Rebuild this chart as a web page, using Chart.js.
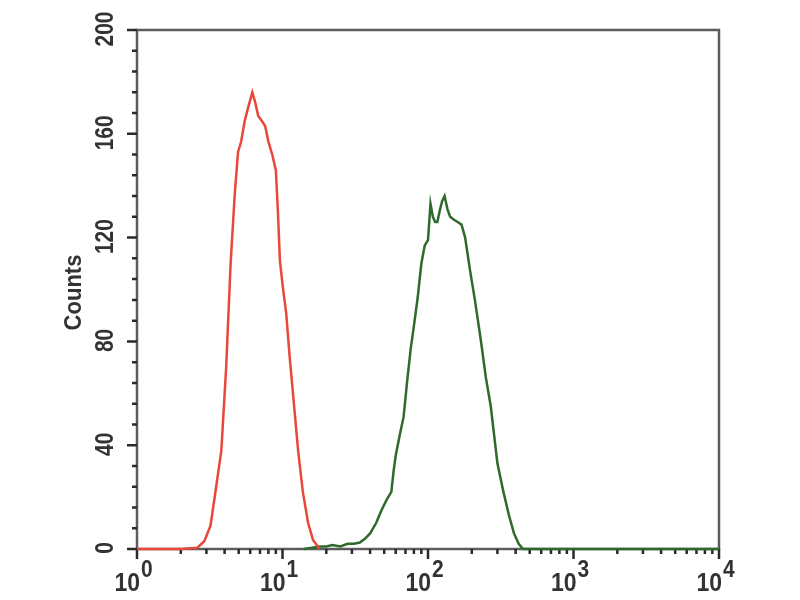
<!DOCTYPE html>
<html>
<head>
<meta charset="utf-8">
<script src="https://cdn.jsdelivr.net/npm/chart.js@4"></script>
<style>
  html, body { margin: 0; padding: 0; background: #fff; }
  #wrap { width: 800px; height: 600px; }
</style>
</head>
<body>
<div id="wrap"><canvas id="flow"></canvas></div>
<script>
// fluorescence channel (log) and counts
const redX = [1, 2.0, 2.6, 2.9, 3.2, 3.5, 3.8, 4.1, 4.4, 4.7, 4.95, 5.2, 5.5, 5.8, 6.2, 6.5, 6.8, 7.2, 7.6, 8.0,
  8.5, 9.0, 9.3, 9.6, 10.1, 10.6, 11.2, 11.8, 12.8, 13.8, 15.0, 16.2, 18.0];
const redY = [0, 0, 0.5, 3, 9, 24, 38, 70, 110, 137, 153, 157, 165, 170, 176, 172, 167, 165, 163, 157,
  152, 146, 130, 111, 100, 91, 74, 60, 38, 22, 10, 3.5, 0];

const greenX = [14, 16, 18, 20, 22, 25, 28, 31, 34, 37, 40, 44, 48, 52, 56, 58, 60, 64, 68, 72, 76, 80, 85, 90, 95,
  100, 104, 108, 112, 116, 120, 125, 130, 136, 142, 150, 160, 170, 180, 195, 210, 230, 250, 270, 300,
  330, 360, 390, 420, 450, 10000];
const greenY = [0, 0.5, 1, 1, 1.5, 1, 2, 2, 2.5, 4, 6, 10, 15, 19, 22, 30, 36, 44, 51, 65, 77, 86, 97, 110, 117,
  119, 133, 128, 126, 126, 130, 134, 136, 131, 128, 127, 126, 125, 120, 107, 96, 81, 66, 55, 33,
  22, 13, 6, 2, 0, 0];

const yTicks = [0, 40, 80, 120, 160, 200];
const yMinorStep = 8;
const xDecades = [1, 10, 100, 1000, 10000];
const xExponents = ['0', '1', '2', '3', '4'];
const yTitle = 'Counts';

const toPoints = (xs, ys) => xs.map((v, i) => ({ x: v, y: ys[i] }));

function drawText(ctx, text, x, y, size, opts) {
  const o = Object.assign({ rot: 0, sx: 1, sy: 1, align: 'center', base: 'middle' }, opts || {});
  ctx.save();
  ctx.translate(x, y);
  ctx.rotate(o.rot);
  ctx.scale(o.sx, o.sy);
  ctx.font = 'bold ' + size + 'px "Liberation Sans", Arial, sans-serif';
  ctx.textAlign = o.align;
  ctx.textBaseline = o.base;
  ctx.fillText(text, 0, 0);
  ctx.restore();
}

const axisPainter = {
  id: 'axisPainter',
  beforeDatasetsDraw(chart) {
    const { ctx, chartArea: a, scales: { x, y } } = chart;
    ctx.save();
    ctx.strokeStyle = '#5c5c5c';
    ctx.lineWidth = 2.5;
    ctx.strokeRect(a.left, a.top, a.right - a.left, a.bottom - a.top);

    ctx.strokeStyle = '#2a2a2a';
    ctx.lineWidth = 2.5;
    ctx.beginPath();
    for (let v = yTicks[0]; v <= yTicks[yTicks.length - 1]; v += yMinorStep) {
      const py = y.getPixelForValue(v);
      const len = yTicks.includes(v) ? 10 : 5;
      ctx.moveTo(a.left - len, py);
      ctx.lineTo(a.left, py);
    }
    xDecades.forEach((d, i) => {
      const px = x.getPixelForValue(d);
      ctx.moveTo(px, a.bottom);
      ctx.lineTo(px, a.bottom + 10);
      if (i < xDecades.length - 1) {
        for (let k = 2; k <= 9; k++) {
          const mx = x.getPixelForValue(d * k);
          ctx.moveTo(mx, a.bottom);
          ctx.lineTo(mx, a.bottom + 5);
        }
      }
    });
    ctx.stroke();

    ctx.fillStyle = '#333';
    yTicks.forEach(v => {
      drawText(ctx, String(v), 106, y.getPixelForValue(v) - 1, 21, { rot: -Math.PI / 2, sy: 1.2 });
    });
    xDecades.forEach((d, i) => {
      const px = x.getPixelForValue(d);
      drawText(ctx, '10', px + 3, 591, 23, { align: 'right', base: 'alphabetic', sy: 1.15 });
      drawText(ctx, xExponents[i], px + 4, 577, 21, { align: 'left', base: 'alphabetic', sy: 1.1 });
    });
    drawText(ctx, yTitle, 74, (a.top + a.bottom) / 2 + 3, 22, { rot: -Math.PI / 2, sy: 1.1 });
    ctx.restore();
  }
};

new Chart(document.getElementById('flow').getContext('2d'), {
  type: 'line',
  data: {
    datasets: [
      {
        label: 'control',
        data: toPoints(redX, redY),
        borderColor: '#e8483a',
        backgroundColor: '#e8483a',
      },
      {
        label: 'stained',
        data: toPoints(greenX, greenY),
        borderColor: '#2f6a2c',
        backgroundColor: '#2f6a2c',
      },
    ],
  },
  options: {
    responsive: true,
    maintainAspectRatio: false,
    animation: false,
    layout: {
      padding: { left: 137, right: 81, top: 30, bottom: 51 },
    },
    elements: {
      point: { radius: 0 },
      line: { tension: 0, borderWidth: 2.5 },
    },
    datasets: {
      line: { clip: 4 },
    },
    plugins: {
      legend: { display: false },
      tooltip: { enabled: false },
    },
    scales: {
      x: { type: 'logarithmic', min: 1, max: 10000, display: false },
      y: { type: 'linear', min: 0, max: 200, display: false },
    },
  },
  plugins: [axisPainter],
});
</script>
</body>
</html>
